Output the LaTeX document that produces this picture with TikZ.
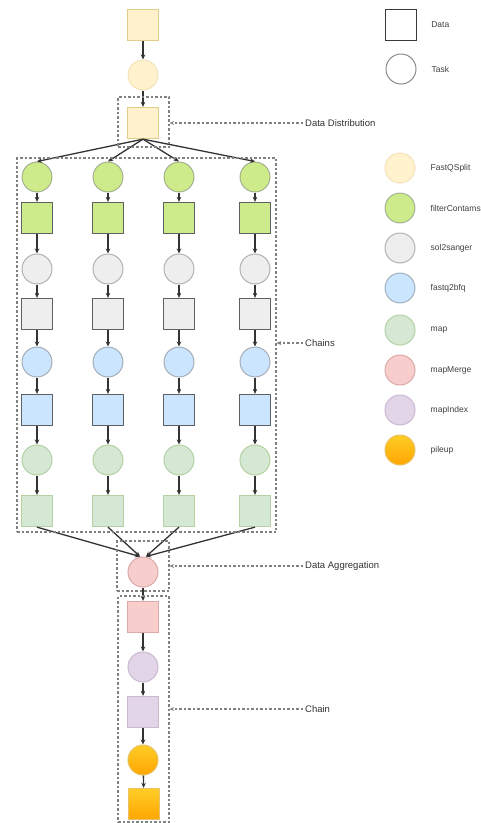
\documentclass[tikz,border=0pt]{standalone}
\usepackage{fontspec}
\setmainfont{Liberation Sans}
\usepackage{tikz}
\definecolor{splityellow}{RGB}{255,242,204}
\definecolor{splitedge}{RGB}{214,182,86}
\definecolor{filtgreen}{RGB}{205,235,139}
\definecolor{solgray}{RGB}{238,238,238}
\definecolor{bfqblue}{RGB}{204,229,255}
\definecolor{darkedge}{RGB}{54,57,61}
\definecolor{mapgreen}{RGB}{213,232,212}
\definecolor{mapedge}{RGB}{130,179,102}
\definecolor{mergepink}{RGB}{248,206,204}
\definecolor{mergeedge}{RGB}{184,84,80}
\definecolor{indexpurple}{RGB}{225,213,231}
\definecolor{indexedge}{RGB}{150,115,166}
\definecolor{piletop}{RGB}{255,205,40}
\definecolor{pilebottom}{RGB}{255,165,0}
\definecolor{pileedge}{RGB}{215,155,0}
\usetikzlibrary{arrows.meta, positioning}

\begin{document}
\begin{tikzpicture}[x=1pt, y=-1pt,
    datanode/.style={rectangle, minimum size=31pt, inner sep=0pt, line width=1.3},
    tasknode/.style={circle, minimum size=30pt, inner sep=0pt, line width=1},
    split/.style={fill=splityellow, draw=splitedge!70},
    filt/.style={fill=filtgreen, draw=darkedge!80},
    sol/.style={fill=solgray, draw=darkedge!80},
    bfq/.style={fill=bfqblue, draw=darkedge!80},
    mapc/.style={fill=mapgreen, draw=mapedge!60},
    merge/.style={fill=mergepink, draw=mergeedge!50},
    index/.style={fill=indexpurple, draw=indexedge!50},
    pile/.style={top color=piletop, bottom color=pilebottom, draw=pileedge!60},
    lighter/.style={draw opacity=0.45},
    flow/.style={draw=black!80, line width=1.3, -{Stealth[length=5pt, width=4.5pt]}},
    groupbox/.style={draw=black!50, line width=1.2, dash pattern=on 2.5pt off 2pt, inner sep=0pt},
    pointer/.style={draw=black!50, line width=1.1, dash pattern=on 2.5pt off 2pt, -{Stealth[length=4.5pt, width=4pt]}},
    boxlabel/.style={anchor=west, inner sep=2pt, text=black!80, font=\fontsize{9.5}{11}\selectfont},
    leglabel/.style={inner sep=2pt, text=black!75, font=\fontsize{8.5}{10}\selectfont}]
\useasboundingbox[fill=white] (0,0) rectangle (481,823);

     %splitting
     \node[datanode, split] (split-in) at (143,25) {};
     \node[tasknode, split, lighter] (split-task) at (143,75) {};
     \node[datanode, split] (split-out) at (143,123) {};
     \draw[flow] (split-in) -- (split-task);
     \draw[flow] (split-task) -- (split-out);

     %chains, row 1
     \node[tasknode, filt, lighter] (filt-task-1) at (37,177) {};
     \node[tasknode, filt, lighter] (filt-task-2) at (108,177) {};
     \node[tasknode, filt, lighter] (filt-task-3) at (179,177) {};
     \node[tasknode, filt, lighter] (filt-task-4) at (255,177) {};
     \draw[flow] (split-out.south) -- (filt-task-1.north);
     \draw[flow] (split-out.south) -- (filt-task-2.north);
     \draw[flow] (split-out.south) -- (filt-task-3.north);
     \draw[flow] (split-out.south) -- (filt-task-4.north);
     %row 2
     \node[datanode, filt] (filt-out-1) at (37,218) {};
     \node[datanode, filt] (filt-out-2) at (108,218) {};
     \node[datanode, filt] (filt-out-3) at (179,218) {};
     \node[datanode, filt] (filt-out-4) at (255,218) {};
     %row 3
     \node[tasknode, sol, lighter] (sol-task-1) at (37,269) {};
     \node[tasknode, sol, lighter] (sol-task-2) at (108,269) {};
     \node[tasknode, sol, lighter] (sol-task-3) at (179,269) {};
     \node[tasknode, sol, lighter] (sol-task-4) at (255,269) {};
     %row 4
     \node[datanode, sol] (sol-out-1) at (37,314) {};
     \node[datanode, sol] (sol-out-2) at (108,314) {};
     \node[datanode, sol] (sol-out-3) at (179,314) {};
     \node[datanode, sol] (sol-out-4) at (255,314) {};
     %row 5
     \node[tasknode, bfq, lighter] (bfq-task-1) at (37,362) {};
     \node[tasknode, bfq, lighter] (bfq-task-2) at (108,362) {};
     \node[tasknode, bfq, lighter] (bfq-task-3) at (179,362) {};
     \node[tasknode, bfq, lighter] (bfq-task-4) at (255,362) {};
     %row 6
     \node[datanode, bfq] (bfq-out-1) at (37,410) {};
     \node[datanode, bfq] (bfq-out-2) at (108,410) {};
     \node[datanode, bfq] (bfq-out-3) at (179,410) {};
     \node[datanode, bfq] (bfq-out-4) at (255,410) {};
     %row 7
     \node[tasknode, mapc] (map-task-1) at (37,460) {};
     \node[tasknode, mapc] (map-task-2) at (108,460) {};
     \node[tasknode, mapc] (map-task-3) at (179,460) {};
     \node[tasknode, mapc] (map-task-4) at (255,460) {};
     %row 8
     \node[datanode, mapc] (map-out-1) at (37,511) {};
     \node[datanode, mapc] (map-out-2) at (108,511) {};
     \node[datanode, mapc] (map-out-3) at (179,511) {};
     \node[datanode, mapc] (map-out-4) at (255,511) {};
     %chain edges
     \foreach \c in {1,2,3,4}{
        \draw[flow] (filt-task-\c) -- (filt-out-\c);
        \draw[flow] (filt-out-\c) -- (sol-task-\c);
        \draw[flow] (sol-task-\c) -- (sol-out-\c);
        \draw[flow] (sol-out-\c) -- (bfq-task-\c);
        \draw[flow] (bfq-task-\c) -- (bfq-out-\c);
        \draw[flow] (bfq-out-\c) -- (map-task-\c);
        \draw[flow] (map-task-\c) -- (map-out-\c);
     }

     %aggregation and last chain
     \node[tasknode, merge] (merge-task) at (143,572) {};
     \draw[flow] (map-out-1.south) -- ([xshift=-3pt]merge-task.north);
     \draw[flow] (map-out-2.south) -- ([xshift=-3pt]merge-task.north);
     \draw[flow] (map-out-3.south) -- ([xshift=3pt]merge-task.north);
     \draw[flow] (map-out-4.south) -- ([xshift=3pt]merge-task.north);
     \node[datanode, merge] (merge-out) at (143,617) {};
     \node[tasknode, index] (index-task) at (143,667) {};
     \node[datanode, index] (index-out) at (143,712) {};
     \node[tasknode, pile] (pile-task) at (143,760) {};
     \node[datanode, pile] (pile-out) at (144,804) {};
     \draw[flow] (merge-task) -- (merge-out);
     \draw[flow] (merge-out) -- (index-task);
     \draw[flow] (index-task) -- (index-out);
     \draw[flow] (index-out) -- (pile-task);
     \draw[flow] (pile-task) -- (pile-out);

     %dashed groups
     \node[groupbox, minimum width=51pt, minimum height=50pt] (dist-box) at (143.5,122) {};
     \node[groupbox, minimum width=259pt, minimum height=374pt] (chains-box) at (146.5,345) {};
     \node[groupbox, minimum width=52pt, minimum height=50pt] (agg-box) at (143,566) {};
     \node[groupbox, minimum width=51pt, minimum height=226pt] (chain-box) at (143.5,709) {};
     \node[boxlabel] (dist-label) at (303,123) {Data Distribution};
     \node[boxlabel] (chains-label) at (303,343) {Chains};
     \node[boxlabel] (agg-label) at (303,566) {Data Aggregation};
     \node[boxlabel] (chain-label) at (303,709) {Chain};
     \draw[pointer] (dist-label.west) -- (dist-box.east |- dist-label.west);
     \draw[pointer] (chains-label.west) -- (chains-box.east |- chains-label.west);
     \draw[pointer] (agg-label.west) -- (agg-box.east |- agg-label.west);
     \draw[pointer] (chain-label.west) -- (chain-box.east |- chain-label.west);

     %legend
     \node[datanode, fill=white, draw=darkedge] (leg-data) at (401,25) {};
     \node[tasknode, fill=white, draw=black!45] (leg-task) at (401,69) {};
     \node[tasknode, split, lighter] (leg-split) at (400,168) {};
     \node[tasknode, filt, lighter] (leg-filt) at (400,208) {};
     \node[tasknode, sol, lighter] (leg-sol) at (400,248) {};
     \node[tasknode, bfq, lighter] (leg-bfq) at (400,288) {};
     \node[tasknode, mapc] (leg-map) at (400,330) {};
     \node[tasknode, merge] (leg-merge) at (400,370) {};
     \node[tasknode, index] (leg-index) at (400,410) {};
     \node[tasknode, pile] (leg-pile) at (400,450) {};
     \node[leglabel, right=12pt of leg-data, anchor=west] {Data};
     \node[leglabel, right=13pt of leg-task, anchor=west] {Task};
     \node[leglabel, right=13pt of leg-split, anchor=west] {FastQSplit};
     \node[leglabel, right=13pt of leg-filt, anchor=west] {filterContams};
     \node[leglabel, right=13pt of leg-sol, anchor=west] {sol2sanger};
     \node[leglabel, right=13pt of leg-bfq, anchor=west] {fastq2bfq};
     \node[leglabel, right=13pt of leg-map, anchor=west] {map};
     \node[leglabel, right=13pt of leg-merge, anchor=west] {mapMerge};
     \node[leglabel, right=13pt of leg-index, anchor=west] {mapIndex};
     \node[leglabel, right=13pt of leg-pile, anchor=west] {pileup};
\end{tikzpicture}
\end{document}
